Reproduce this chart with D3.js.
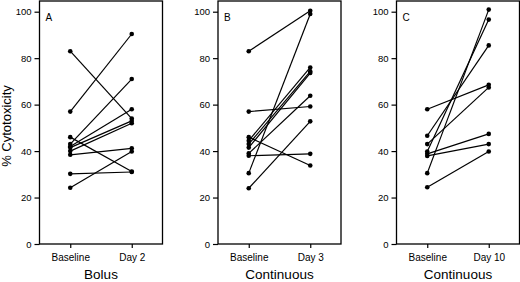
<!DOCTYPE html>
<html>
<head>
<meta charset="utf-8">
<script src="https://cdn.jsdelivr.net/npm/d3@7"></script>
<style>
  html, body { margin: 0; padding: 0; background: #fff; }
  svg { display: block; }
  text { font-family: "Liberation Sans", Arial, Helvetica, sans-serif; fill: #000; }
</style>
</head>
<body>
<svg id="chart" width="520" height="282"></svg>
<script>
// ---- data ----
const panelLetters = ["A", "B", "C"];
const panelTitles = ["Bolus", "Continuous", "Continuous"];
const timeLabelsA = ["Baseline", "Day 2"];
const timeLabelsB = ["Baseline", "Day 3"];
const timeLabelsC = ["Baseline", "Day 10"];
const yTicks = [0, 20, 40, 60, 80, 100];
const yTitle = "% Cytotoxicity";

// paired values (baseline[i] -> follow-up[i])
const baselineA = [83, 57, 46, 43, 42, 41.5, 40, 38.4, 30.2, 24.2];
const day2A     = [54, 90.4, 31.2, 71, 58, 53, 52, 41.2, 31, 39.8];

const baselineB = [83, 57, 46, 44.5, 43, 41.5, 39, 38, 30.5, 24];
const day3B     = [100.4, 59.2, 33.8, 76, 74.3, 73.6, 63.8, 38.8, 99, 52.8];

const baselineC = [58, 46.6, 43, 39.8, 38.8, 37.9, 30.5, 24.4];
const day10C    = [68.5, 85.5, 67.4, 96.6, 47.4, 43, 100.9, 39.8];

const panels = [
  { letter: panelLetters[0], title: panelTitles[0], times: timeLabelsA, base: baselineA, follow: day2A },
  { letter: panelLetters[1], title: panelTitles[1], times: timeLabelsB, base: baselineB, follow: day3B },
  { letter: panelLetters[2], title: panelTitles[2], times: timeLabelsC, base: baselineC, follow: day10C }
];

// ---- layout ----
const svg = d3.select("#chart");
const panelLeft = [39.5, 218, 396.5];
const panelW = 123;
const frameTop = 1;
const frameBottom = 244;

const y = d3.scaleLinear().domain([0, 100]).range([244, 11.7]);

panels.forEach((p, i) => {
  const g = svg.append("g").attr("transform", `translate(${panelLeft[i]},0)`);
  const x = d3.scalePoint().domain(p.times).range([0, panelW]).padding(0.5);

  // frame
  g.append("rect")
    .attr("x", 0).attr("y", frameTop)
    .attr("width", panelW).attr("height", frameBottom - frameTop)
    .attr("fill", "none").attr("stroke", "#000").attr("stroke-width", 1.3);

  // y axis
  const ya = g.append("g")
    .call(d3.axisLeft(y).tickValues(yTicks).tickSize(5).tickPadding(3));
  ya.select(".domain").remove();
  ya.selectAll(".tick line").attr("stroke", "#000").attr("stroke-width", 1.2);
  ya.selectAll(".tick text").style("font-size", "9.5px").attr("fill", "#000")
    .style("font-family", '"Liberation Sans", Arial, Helvetica, sans-serif');

  // x axis
  const xa = g.append("g").attr("transform", `translate(0,${frameBottom})`)
    .call(d3.axisBottom(x).tickSize(4).tickPadding(6));
  xa.select(".domain").remove();
  xa.selectAll(".tick line").attr("stroke", "#000").attr("stroke-width", 1.2);
  xa.selectAll(".tick text").style("font-size", "10px").attr("fill", "#000")
    .style("font-family", '"Liberation Sans", Arial, Helvetica, sans-serif');

  // panel letter
  g.append("text").attr("x", 6).attr("y", 21)
    .style("font-size", "10px").text(p.letter);

  // panel title
  g.append("text").attr("x", panelW / 2).attr("y", 278.5)
    .attr("text-anchor", "middle").style("font-size", "13.5px").text(p.title);

  // paired lines
  const pairs = p.base.map((b, k) => ({ b: b, f: p.follow[k] }));
  g.selectAll("line.pair").data(pairs).enter().append("line")
    .attr("class", "pair")
    .attr("x1", x(p.times[0])).attr("y1", d => y(d.b))
    .attr("x2", x(p.times[1])).attr("y2", d => y(d.f))
    .attr("stroke", "#000").attr("stroke-width", 1.2);

  // dots
  const pts = [];
  pairs.forEach(d => { pts.push({ t: p.times[0], v: d.b }); pts.push({ t: p.times[1], v: d.f }); });
  g.selectAll("circle").data(pts).enter().append("circle")
    .attr("cx", d => x(d.t)).attr("cy", d => y(d.v)).attr("r", 2.3)
    .attr("fill", "#000");
});

// y title
svg.append("text")
  .attr("transform", "translate(11,126) rotate(-90)")
  .attr("text-anchor", "middle")
  .style("font-size", "13px")
  .text(yTitle);
</script>
</body>
</html>
